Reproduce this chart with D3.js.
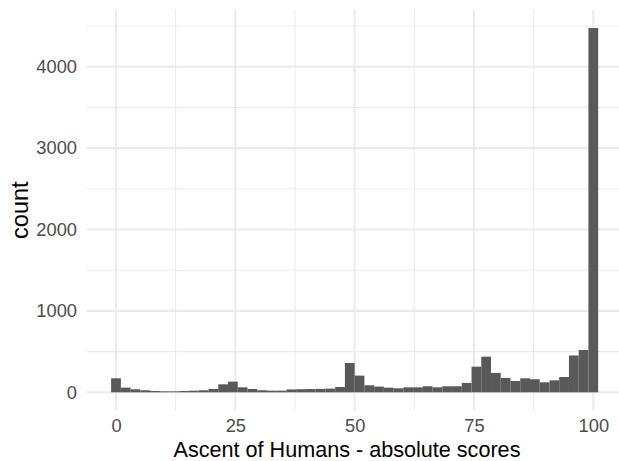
<!DOCTYPE html>
<html>
<head>
<meta charset="utf-8">
<script src="https://cdn.jsdelivr.net/npm/d3@7"></script>
<style>
  html, body { margin: 0; padding: 0; background: #ffffff; }
  svg { display: block; font-family: "Liberation Sans", Arial, Helvetica, sans-serif; }
</style>
</head>
<body>
<svg id="chart" width="619" height="461"></svg>
<script>
// ---- data ----
// histogram: 50 bins of equal width, first centered at 0, last centered at 100
const binCount = 50;
const binFirstCenter = 0;
const binLastCenter = 100;
const counts = [
  172, 57, 37, 25, 16, 12, 12, 16, 20, 25,
  41, 98, 131, 61, 41, 25, 20, 20, 35, 38,
  40, 42, 45, 65, 360, 205, 86, 70, 57, 49,
  61, 61, 74, 61, 74, 74, 115, 315, 438, 238,
  176, 139, 172, 160, 123, 147, 188, 452, 520, 4475
];
const xTicks = [0, 25, 50, 75, 100];
const xMinor = [12.5, 37.5, 62.5, 87.5];
const yTicks = [0, 1000, 2000, 3000, 4000];
const yMinor = [500, 1500, 2500, 3500, 4500];
const xTitle = "Ascent of Humans - absolute scores";
const yTitle = "count";

// ---- layout ----
const svg = d3.select("#chart");
const binWidth = (binLastCenter - binFirstCenter) / (binCount - 1);
const xDomain = [binFirstCenter - binWidth / 2, binLastCenter + binWidth / 2];
const xPad = (xDomain[1] - xDomain[0]) * 0.05;
const yMax = d3.max(counts);
const yPad = yMax * 0.05;

const x = d3.scaleLinear().domain([0, 100]).range([116, 593.3]);
const y = d3.scaleLinear().domain([0, 4000]).range([392.3, 66.7]);

const panel = {
  x0: x(xDomain[0] - xPad), x1: x(xDomain[1] + xPad),
  y0: y(yMax + yPad), y1: y(-yPad)
};

const grid = svg.append("g");
const gridColor = "#EBEBEB";
// minor grid
grid.selectAll("line.ymin").data(yMinor).join("line")
  .attr("x1", panel.x0).attr("x2", panel.x1)
  .attr("y1", d => y(d)).attr("y2", d => y(d))
  .attr("stroke", gridColor).attr("stroke-width", 1.05);
grid.selectAll("line.xmin").data(xMinor).join("line")
  .attr("y1", panel.y0).attr("y2", panel.y1)
  .attr("x1", d => x(d)).attr("x2", d => x(d))
  .attr("stroke", gridColor).attr("stroke-width", 1.05);
// major grid
grid.selectAll("line.ymaj").data(yTicks).join("line")
  .attr("x1", panel.x0).attr("x2", panel.x1)
  .attr("y1", d => y(d)).attr("y2", d => y(d))
  .attr("stroke", gridColor).attr("stroke-width", 2.1);
grid.selectAll("line.xmaj").data(xTicks).join("line")
  .attr("y1", panel.y0).attr("y2", panel.y1)
  .attr("x1", d => x(d)).attr("x2", d => x(d))
  .attr("stroke", gridColor).attr("stroke-width", 2.1);

// bars
svg.append("g").selectAll("rect").data(counts).join("rect")
  .attr("x", (d, i) => x(binFirstCenter + i * binWidth - binWidth / 2))
  .attr("width", (d, i) => x(binFirstCenter + (i + 1) * binWidth) - x(binFirstCenter + i * binWidth))
  .attr("y", d => y(d))
  .attr("height", d => y(0) - y(d))
  .attr("fill", "#595959");

// axes (labels only)
const xAxis = svg.append("g")
  .attr("transform", `translate(0,${panel.y1})`)
  .call(d3.axisBottom(x).tickValues(xTicks).tickSize(0).tickPadding(8.8).tickFormat(d3.format("d")));
const yAxis = svg.append("g")
  .attr("transform", `translate(${panel.x0},0)`)
  .call(d3.axisLeft(y).tickValues(yTicks).tickSize(0).tickPadding(9.8).tickFormat(d3.format("d")));
[xAxis, yAxis].forEach(a => {
  a.select(".domain").remove();
  a.selectAll("text").attr("fill", "#4D4D4D").style("font-size", "18.3px")
    .style("font-family", '"Liberation Sans", Arial, Helvetica, sans-serif');
});

// titles
svg.append("text")
  .attr("x", 347).attr("y", 457.3)
  .attr("text-anchor", "middle")
  .attr("fill", "#000000").style("font-size", "21.6px")
  .text(xTitle);
svg.append("text")
  .attr("transform", `translate(28,${(panel.y0 + panel.y1) / 2}) rotate(-90)`)
  .attr("text-anchor", "middle")
  .attr("fill", "#000000").style("font-size", "23.5px")
  .text(yTitle);
</script>
</body>
</html>
